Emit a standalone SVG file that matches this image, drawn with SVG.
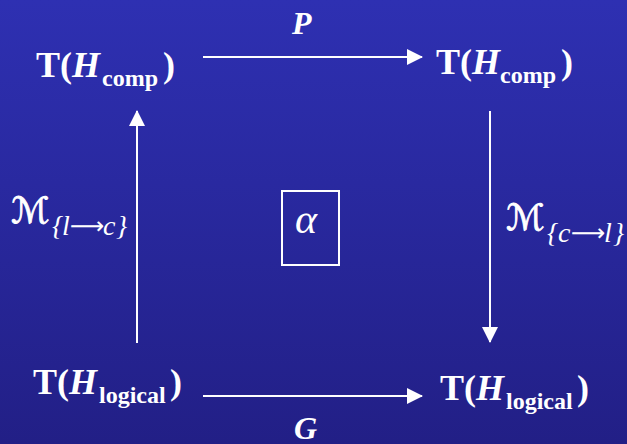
<svg xmlns="http://www.w3.org/2000/svg" width="627" height="444" viewBox="0 0 627 444">
<defs>
<linearGradient id="bg" x1="0" y1="0" x2="0" y2="1">
<stop offset="0" stop-color="#2e30b2"/>
<stop offset="1" stop-color="#221f86"/>
</linearGradient>
<marker id="ah" viewBox="0 0 16 16" refX="15" refY="8" markerWidth="16" markerHeight="16" markerUnits="userSpaceOnUse" orient="auto">
<path d="M0,0 L16,8 L0,16 Z" fill="#fff"/>
</marker>
<style>
text{fill:#fff;font-family:"Liberation Serif","Times New Roman",serif}
.m{font-size:36px;font-weight:bold}
.sub{font-size:24px;font-weight:bold}
.bi{font-style:italic;font-weight:bold}
.i{font-style:italic}
.sc{font-family:"DejaVu Serif","DejaVu Sans",serif;font-style:italic;font-size:36px;stroke:#fff;stroke-width:0.9}
.br{font-size:28px}
.ar{font-family:"DejaVu Sans",sans-serif;font-style:normal;font-size:24px}
.conn line{stroke:#fff;stroke-width:2;marker-end:url(#ah)}
</style>
</defs>
<rect width="627" height="444" fill="url(#bg)"/>
<g class="conn">
<line x1="203" y1="57" x2="422" y2="57"/>
<line x1="203" y1="396" x2="422" y2="396"/>
<line x1="137" y1="343" x2="137" y2="111"/>
<line x1="490" y1="111" x2="490" y2="342"/>
</g>
<g id="tl">
<text class="m" x="36" y="77">T(<tspan class="bi">H</tspan><tspan class="sub" x="102" y="86">comp</tspan><tspan x="163" y="77">)</tspan></text>
</g>
<g id="tr">
<text class="m" x="436" y="74">T(<tspan class="bi">H</tspan><tspan class="sub" x="500" y="83">comp</tspan><tspan x="561" y="74">)</tspan></text>
</g>
<g id="bl">
<text class="m" x="33" y="394">T(<tspan class="bi">H</tspan><tspan class="sub" x="99" y="403">logical</tspan><tspan x="170" y="394">)</tspan></text>
</g>
<g id="br">
<text class="m" x="440" y="400">T(<tspan class="bi">H</tspan><tspan class="sub" x="506" y="409">logical</tspan><tspan x="577" y="400">)</tspan></text>
</g>
<g id="P"><text class="bi" x="292" y="34" font-size="32">P</text></g>
<g id="G"><text class="bi" x="294" y="439" font-size="32">G</text></g>
<g id="alpha">
<rect x="282" y="191" width="57" height="74" fill="none" stroke="#fff" stroke-width="2"/>
<text class="i" x="295" y="233" font-size="42">α</text>
</g>
<g id="ml">
<text class="sc" x="11" y="223">ℳ</text>
<text class="i br" y="235"><tspan x="52">{</tspan><tspan x="62">l</tspan><tspan class="ar" x="70" y="234">⟶</tspan><tspan x="103" y="235">c</tspan><tspan x="116">}</tspan></text>
</g>
<g id="mr">
<text class="sc" x="506" y="230">ℳ</text>
<text class="i br" y="242"><tspan x="547">{</tspan><tspan x="558">c</tspan><tspan class="ar" x="571" y="241">⟶</tspan><tspan x="604" y="242">l</tspan><tspan x="613">}</tspan></text>
</g>
</svg>
